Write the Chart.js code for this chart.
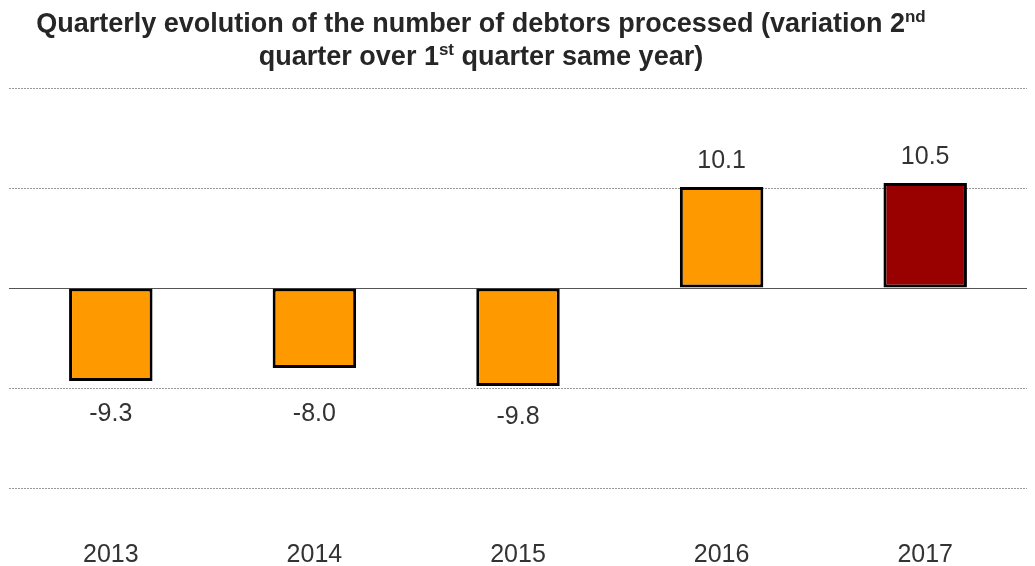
<!DOCTYPE html>
<html>
<head>
<meta charset="utf-8">
<script src="https://cdn.jsdelivr.net/npm/chart.js@4"></script>
<style>
  body { margin: 0; background: #fff; }
  #wrap { position: relative; width: 1035px; height: 566px; overflow: hidden; }
  #title {
    position: absolute; left: 0; top: 7px; width: 962px;
    text-align: center; font-family: "Liberation Sans", Arial, sans-serif;
    font-weight: bold; font-size: 27px; line-height: 33px; color: #262626;
  }
  #title sup { font-size: 17px; line-height: 0; vertical-align: 10px; }
  canvas { position: absolute; left: 0; top: 0; }
</style>
</head>
<body>
<div id="wrap">
  <canvas id="chart" width="1035" height="566"></canvas>
  <div id="title">Quarterly evolution of the number of debtors processed (variation 2<sup>nd</sup><br>quarter over 1<sup>st</sup> quarter same year)</div>
</div>
<script>
const years = ['2013', '2014', '2015', '2016', '2017'];
const variation = [-9.3, -8.0, -9.8, 10.1, 10.5];
const barColors = ['#FF9900', '#FF9900', '#FF9900', '#FF9900', '#990000'];

// value labels above / below bars (negatives never closer than a fixed line)
const valueLabels = {
    id: 'valueLabels',
    afterDatasetsDraw(chart) {
        const ctx = chart.ctx;
        const meta = chart.getDatasetMeta(0);
        const zeroY = chart.scales.y.getPixelForValue(0);
        ctx.save();
        ctx.font = '25px "Liberation Sans", Arial, sans-serif';
        ctx.fillStyle = '#333333';
        ctx.textAlign = 'center';
        ctx.textBaseline = 'alphabetic';
        meta.data.forEach((bar, i) => {
            const v = variation[i];
            const y = v >= 0 ? bar.y - 19 : Math.max(bar.y + 38, zeroY + 133);
            ctx.fillText(v.toFixed(1), bar.x, y);
        });
        ctx.restore();
    }
};

new Chart(document.getElementById('chart'), {
    type: 'bar',
    data: {
        labels: years,
        datasets: [{
            data: variation,
            backgroundColor: barColors,
            borderColor: '#000000',
            borderWidth: 3,
            borderSkipped: false,
            barPercentage: 0.41,
            categoryPercentage: 1
        }]
    },
    options: {
        responsive: false,
        animation: false,
        layout: { padding: { top: 88, left: 9, right: 8, bottom: -56 } },
        plugins: {
            legend: { display: false },
            tooltip: { enabled: false }
        },
        scales: {
            x: {
                grid: { display: false, drawTicks: false },
                border: { display: false },
                ticks: {
                    padding: 52,
                    color: '#333333',
                    font: { family: '"Liberation Sans", Arial, sans-serif', size: 25 }
                }
            },
            y: {
                min: -20,
                max: 20,
                ticks: { display: false, stepSize: 10 },
                border: {
                    display: false,
                    dash: ctx => ctx.tick && ctx.tick.value === 0 ? [] : [2, 1]
                },
                grid: {
                    drawTicks: false,
                    color: ctx => ctx.tick && ctx.tick.value === 0 ? '#555555' : '#999999',
                    lineWidth: 1
                }
            }
        }
    },
    plugins: [valueLabels]
});
</script>
</body>
</html>
